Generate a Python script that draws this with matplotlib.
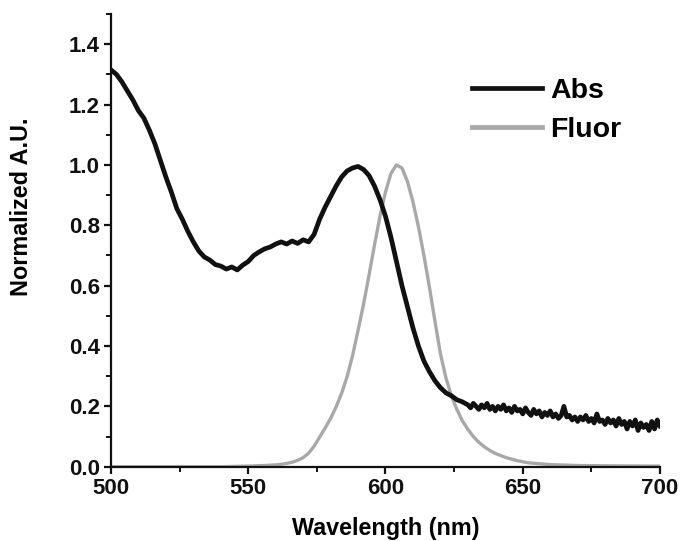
import matplotlib
matplotlib.use("Agg")
import matplotlib.pyplot as plt
from matplotlib.ticker import MultipleLocator

plt.rcParams['font.family'] = ['Liberation Sans', 'DejaVu Sans']
plt.rcParams['font.weight'] = 'bold'

# Absorption spectrum (wavelength nm, normalized)
abs_wl = [500, 502, 504, 506, 508, 510, 512, 514, 516, 518, 520, 522, 524, 526, 528,
          530, 532, 534, 536, 538, 540, 542, 544, 546, 548, 550, 552, 554, 556, 558,
          560, 562, 564, 566, 568, 570, 572, 574, 576, 578, 580, 582, 584, 586, 588,
          590, 592, 594, 596, 598, 600, 602, 604, 606, 608, 610, 612, 614, 616, 618,
          620, 622, 624, 626, 628,
          630, 631, 632, 633, 634, 635, 636, 637, 638, 639, 640, 641, 642, 643, 644,
          645, 646, 647, 648, 649, 650, 651, 652, 653, 654, 655, 656, 657, 658, 659,
          660, 661, 662, 663, 664, 665, 666, 667, 668, 669, 670, 671, 672, 673, 674,
          675, 676, 677, 678, 679, 680, 681, 682, 683, 684, 685, 686, 687, 688, 689,
          690, 691, 692, 693, 694, 695, 696, 697, 698, 699, 700]
abs_val = [1.315, 1.30, 1.275, 1.245, 1.215, 1.18, 1.155, 1.115, 1.07, 1.015, 0.96, 0.91, 0.855, 0.82, 0.78,
           0.745, 0.715, 0.695, 0.685, 0.67, 0.665, 0.655, 0.662, 0.652, 0.668, 0.68, 0.70, 0.712, 0.722, 0.728,
           0.738, 0.745, 0.738, 0.748, 0.74, 0.752, 0.745, 0.77, 0.82, 0.86, 0.895, 0.93, 0.96, 0.98, 0.99,
           0.995, 0.985, 0.965, 0.93, 0.885, 0.83, 0.76, 0.68, 0.60, 0.53, 0.46, 0.40, 0.35, 0.315, 0.285,
           0.262, 0.245, 0.235, 0.222, 0.215,
           0.205, 0.195, 0.21, 0.20, 0.19, 0.205, 0.195, 0.21, 0.19, 0.20, 0.185, 0.20, 0.19, 0.205, 0.185,
           0.195, 0.18, 0.20, 0.185, 0.19, 0.175, 0.195, 0.18, 0.17, 0.19, 0.175, 0.185, 0.165, 0.18, 0.17,
           0.185, 0.165, 0.175, 0.16, 0.17, 0.20, 0.165, 0.17, 0.155, 0.165, 0.15, 0.165, 0.155, 0.17, 0.15,
           0.16, 0.145, 0.175, 0.15, 0.155, 0.14, 0.16, 0.145, 0.155, 0.135, 0.16, 0.14, 0.15, 0.125, 0.15,
           0.135, 0.155, 0.12, 0.145, 0.13, 0.14, 0.12, 0.15, 0.125, 0.155, 0.135]

# Fluorescence spectrum
fl_wl = [500, 540, 550, 556, 560, 562, 564, 566, 568, 570, 572, 574, 576, 578, 580, 582, 584,
         586, 588, 590, 592, 594, 596, 598, 600, 602, 604, 606, 608, 610, 612, 614, 616,
         618, 620, 622, 624, 626, 628, 630, 632, 634, 636, 638, 640, 644, 648, 652, 660,
         670, 680, 700]
fl_val = [0.0, 0.0, 0.002, 0.004, 0.006, 0.008, 0.011, 0.015, 0.021, 0.03, 0.045, 0.068, 0.098, 0.128, 0.16, 0.198, 0.243,
          0.298, 0.368, 0.452, 0.538, 0.635, 0.735, 0.83, 0.91, 0.972, 1.0, 0.99, 0.945, 0.878, 0.795, 0.70, 0.595,
          0.483, 0.375, 0.295, 0.235, 0.19, 0.152, 0.124, 0.1, 0.081, 0.066, 0.054, 0.044, 0.03, 0.02, 0.013, 0.007,
          0.004, 0.003, 0.002]

x_ticks = [500, 550, 600, 650, 700]
y_ticks = [0.0, 0.2, 0.4, 0.6, 0.8, 1.0, 1.2, 1.4]

fig = plt.figure(figsize=(6.8, 5.41), dpi=100)
ax = fig.add_axes([0.1632, 0.1373, 0.8074, 0.8367])

ax.plot(fl_wl, fl_val, color='#a8a8a8', lw=2.4, label='Fluor', zorder=2)
ax.plot(abs_wl, abs_val, color='#111111', lw=3.4, label='Abs', zorder=3, solid_joinstyle='round')

ax.set_xlim(500, 700)
ax.set_ylim(0, 1.5)
ax.set_xticks(x_ticks)
ax.set_xticklabels([str(v) for v in x_ticks])
ax.set_yticks(y_ticks)
ax.set_yticklabels([f"{v:.1f}" for v in y_ticks])
ax.xaxis.set_minor_locator(MultipleLocator(25))
ax.yaxis.set_minor_locator(MultipleLocator(0.1))

for s in ['top', 'right']:
    ax.spines[s].set_visible(False)
for s in ['left', 'bottom']:
    ax.spines[s].set_linewidth(1.6)
    ax.spines[s].set_color('#111111')

ax.tick_params(which='major', direction='out', length=5, width=1.6, labelsize=16, colors='#111111', pad=3)
ax.tick_params(which='minor', direction='out', length=3.5, width=1.4, colors='#111111')
for lab in ax.get_xticklabels() + ax.get_yticklabels():
    lab.set_fontweight('bold')

ax.set_xlabel('Wavelength (nm)', fontsize=16.8, fontweight='bold', labelpad=13)
ax.set_ylabel('Normalized A.U.', fontsize=16.8, fontweight='bold')
ax.yaxis.set_label_coords(-0.142, 0.574)

handles, labels = ax.get_legend_handles_labels()
leg = ax.legend(handles[::-1], labels[::-1], loc='upper left', bbox_to_anchor=(472 / 680, 1 - 78 / 541),
                bbox_transform=fig.transFigure, frameon=False, prop={'weight': 'bold', 'size': 20.5},
                handlelength=2.46, handletextpad=0.28, labelspacing=0.46, borderpad=0, borderaxespad=0)
for line in leg.get_lines():
    line.set_linewidth(3.4)

fig.savefig('out.png', dpi=100)
